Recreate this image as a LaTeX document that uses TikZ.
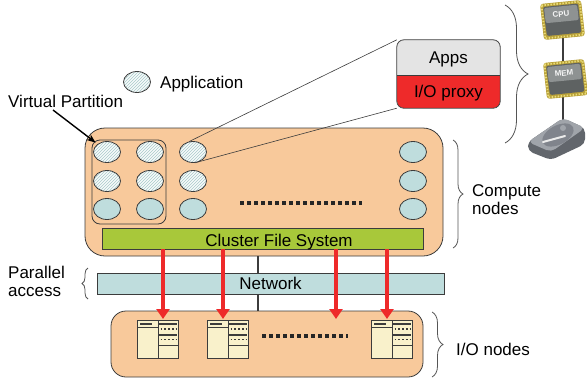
\documentclass[tikz,border=0pt]{standalone}
\usepackage{fontspec}
\setmainfont{Liberation Sans}
\usetikzlibrary{shapes.geometric,patterns,arrows.meta,decorations.pathreplacing,calc}

\definecolor{peach}{HTML}{F8C99B}
\definecolor{cfsgreen}{HTML}{A8C83A}
\definecolor{netblue}{HTML}{BFDDDD}
\definecolor{proxyred}{HTML}{EE2A2A}
\definecolor{appsgray}{HTML}{E4E4E4}
\definecolor{cream}{HTML}{F9F1CB}
\definecolor{edge}{HTML}{3C3C3C}
\definecolor{bracegray}{HTML}{555555}
\definecolor{hatch}{HTML}{A8CACA}
\definecolor{chipgold}{HTML}{B8A038}
\definecolor{chippin}{HTML}{EADC78}
\definecolor{chipbody}{HTML}{5E6262}
\definecolor{chiptop}{HTML}{8E9292}
\definecolor{diskgray}{HTML}{62666C}
\definecolor{disklight}{HTML}{A0A4AA}
\definecolor{diskplatter}{HTML}{80848C}

\tikzset{
  app/.style={ellipse, draw=edge, line width=0.8pt, minimum width=27pt,
    minimum height=21pt, inner sep=0pt},
  busy/.style={app, preaction={fill=white!88!netblue},
    pattern=north east lines, pattern color=hatch},
  idle/.style={app, fill=netblue},
  panel/.style={draw=edge, line width=0.8pt, fill=peach},
  bar/.style={draw=edge, line width=0.7pt, inner sep=0pt, text height=12pt, text depth=0pt},
  label/.style={inner sep=0pt, anchor=base west},
  squaredots/.style={line width=3.6pt, dash pattern=on 3.6pt off 3.4pt, draw=black!85},
  ioarrow/.style={draw=proxyred, line width=4pt, -{Triangle[width=13pt,length=10pt]}},
  curly/.style={draw=bracegray, line width=0.8pt, decorate,
    decoration={brace, amplitude=#1}},
  pics/server/.style={code={
    \draw[edge, fill=cream, line width=0.7pt] (0,0) rectangle (41,38);
    \draw[edge, line width=0.7pt] (21,0) -- (21,38);
    \draw[edge, line width=0.5pt] (0,7) -- (21,7);
    \fill[edge] (3,2.6) rectangle (15,4.6);
    \fill[edge] (22,2.5) rectangle (40,4.5);
    \draw[edge, line width=1.6pt, dash pattern=on 1.6pt off 2.2pt] (23.5,9) -- (40,9);
    \fill[edge] (22,13.5) rectangle (40,15.5);
    \draw[edge, line width=1.6pt, dash pattern=on 1.6pt off 2.2pt] (23.5,19.5) -- (40,19.5);
    \draw[edge, line width=0.7pt] (21,25) -- (41,25);
  }},
  pics/chip/.style={code={
    \coordinate (-c) at (0,0);
    \fill[chipgold, rounded corners=3pt] (-22,-16) -- (19,-20) -- (23,16) -- (-18,20) -- cycle;
    \draw[chippin, line width=1.8pt, dash pattern=on 1.4pt off 1.6pt]
      (-20.5,-14.5) -- (17.6,-18.4) -- (21.4,14.6) -- (-16.6,18.4) -- cycle;
    \fill[chipbody, rounded corners=2pt] (-19,-13) -- (16,-16.5) -- (19.5,12.5) -- (-15,16) -- cycle;
    \fill[chiptop, rounded corners=2pt] (-18,-12) -- (15,-15.3) -- (16.8,0) -- (-16.2,3.2) -- cycle;
    \node[font=\bfseries\fontsize{8}{8}\selectfont, text=white!92!gray,
      rotate=6, inner sep=0pt] at (-1,-6) {#1};
  }},
  pics/disk/.style={code={
    \coordinate (-c) at (0,0);
    \fill[diskgray, rounded corners=5pt] (-28,3) -- (7,-21) -- (29,-11) -- (29,5) -- (-5,21) -- (-28,12) -- cycle;
    \fill[disklight, rounded corners=5pt] (-28,3) -- (7,-21) -- (29,-11) -- (-5,13) -- cycle;
    \fill[diskplatter, rotate around={28:(2,-4)}] (2,-4) ellipse (17 and 9.5);
    \fill[disklight] (7,-11) circle (3);
    \draw[white!85!gray, line width=2pt, line cap=round] (-13,3) -- (9,-3);
  }}
}

\begin{document}
\begin{tikzpicture}[x=1pt, y=-1pt, font=\fontsize{17}{18}\selectfont]
\useasboundingbox (0,0) rectangle (587,381);

% ---- compute node panel ----
\node[panel, rounded corners=20pt, minimum width=358pt, minimum height=128pt]
  (compute) at (264,192) {};
\node[draw=edge, line width=0.8pt, rounded corners=8pt, minimum width=74pt,
  minimum height=84pt] (vp) at (129,182) {};

\node[busy] (e11) at (107,152) {};
\node[busy] (e12) at (150,152) {};
\node[busy] (e13) at (193,152) {};
\node[busy] (e21) at (107,181) {};
\node[busy] (e22) at (150,181) {};
\node[busy] (e23) at (193,181) {};
\node[idle] (e31) at (107,209) {};
\node[idle] (e32) at (150,209) {};
\node[idle] (e33) at (193,209) {};
\node[idle] (r1) at (413,152) {};
\node[idle] (r2) at (413,181) {};
\node[idle] (r3) at (413,209) {};

\coordinate (cdotsA) at (240,203);
\coordinate (cdotsB) at (362,203);
\draw[squaredots] (cdotsA) -- (cdotsB);

\node[bar, fill=cfsgreen, minimum width=321pt, minimum height=21pt] (cfs) at (262.5,238.5) {};
\node[inner sep=0pt, text height=12pt, text depth=0pt] (cfstext) at (279,240.5) {Cluster File System};

% ---- trunk through the network ----
\coordinate (trunk) at (258,300);
\node[panel, rounded corners=15pt, minimum width=312pt, minimum height=66pt]
  (io) at (267,344) {};
\draw[edge, line width=1.3pt] (compute.south -| trunk) -- (io.north -| trunk);
\node[bar, fill=netblue, minimum width=347pt, minimum height=21pt] (net) at (270.5,283.5) {Network};

% ---- I/O servers ----
\pic at (137,320) {server};
\pic at (207,320) {server};
\pic at (371,320) {server};
\coordinate (iodotsA) at (262,336);
\coordinate (iodotsB) at (348,336);
\draw[squaredots] (iodotsA) -- (iodotsB);

% ---- parallel access arrows ----
\coordinate (a1) at (163,319);
\coordinate (a2) at (223,319);
\coordinate (a3) at (336,319);
\coordinate (a4) at (387,319);
\foreach \t in {a1,a2,a3,a4}
  \draw[ioarrow] (cfs.south -| \t) -- (\t);

% ---- application stack ----
\begin{scope}
  \clip[rounded corners=7pt] (397,40) rectangle (500,108);
  \node[fill=appsgray, minimum width=103pt, minimum height=35pt, inner sep=0pt,
    text height=12pt, text depth=0pt] (apps) at (448.5,57.5) {Apps};
  \node[fill=proxyred, minimum width=103pt, minimum height=33pt, inner sep=0pt,
    text height=12pt, text depth=0pt] (proxy) at (448.5,91.5) {I/O proxy};
\end{scope}
\draw[edge, line width=0.8pt, rounded corners=7pt] (apps.north west) rectangle (proxy.south east);
\draw[edge, line width=0.8pt] (apps.south west) -- (apps.south east);
\draw[edge, line width=0.6pt] (e13.110) -- (apps.north west);
\draw[edge, line width=0.6pt] (e13.-80) -- (proxy.south west);

% ---- legend and labels ----
\node[busy] (legend) at (137,82) {};
\node[label] (applabel) at (160,88) {Application};
\node[label] (vplabel) at (8,107) {Virtual Partition};
\draw[black, line width=1.4pt, -{Stealth[length=9pt,width=7pt]}]
  ($(vplabel.base west)+(45,3)$) -- ($(vp.north west)+(4,3)$);

% ---- braces ----
\coordinate (bcTop) at (453,140);
\coordinate (bcBot) at (453,248);
\draw[curly=10pt] (bcTop) -- (bcBot);
\node[label, align=left] (computelabel) at (472,214) {Compute\\nodes};

\coordinate (bhTop) at (505,5);
\coordinate (bhBot) at (505,143);
\draw[curly=23pt] (bhTop) -- (bhBot);

\coordinate (bioTop) at (432,312);
\coordinate (bioBot) at (432,377);
\draw[curly=11pt] (bioTop) -- (bioBot);
\node[label] (iolabel) at (456,355) {I/O nodes};

\coordinate (bpTop) at (88,268);
\coordinate (bpBot) at (88,299);
\draw[curly=6pt] (bpBot) -- (bpTop);
\node[label, align=left] (palabel) at (8,296) {Parallel\\access};

% ---- hardware icons ----
\coordinate (cpuC) at (562,20);
\coordinate (memC) at (565,79);
\coordinate (diskC) at (556,139);
\draw[edge, line width=1.3pt] (cpuC -| 563,0) -- (memC -| 563,0) -- (diskC -| 563,0);
\pic (cpu) at (cpuC) {chip=CPU};
\pic (mem) at (memC) {chip=MEM};
\pic (disk) at (diskC) {disk};
\end{tikzpicture}
\end{document}
